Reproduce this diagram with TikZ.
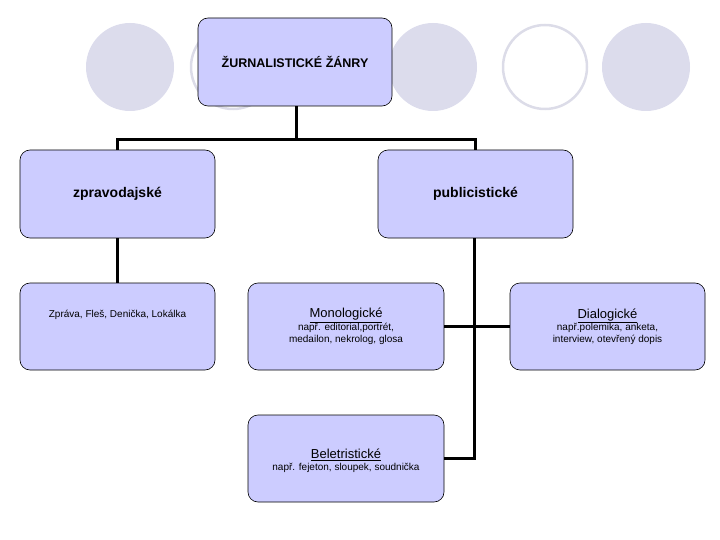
\documentclass[tikz,border=0pt]{standalone}
\usepackage{fontspec}
\setmainfont{Liberation Sans}
\begin{document}
\begin{tikzpicture}[x=1pt,y=-1pt,
  box/.style={draw=black,fill={rgb,255:red,204;green,204;blue,255},rounded corners=10pt,line width=0.6pt,align=center},
  disc/.style={fill={rgb,255:red,220;green,220;blue,236}},
  ring/.style={draw={rgb,255:red,220;green,220;blue,232},line width=2.5pt},
  conn/.style={line width=3pt},
  small/.style={font=\fontsize{10}{12}\selectfont}]
\useasboundingbox (0,0) rectangle (720,540);
\fill[disc] (130,67) circle (44);
\draw[ring] (233,67) circle (42);
\fill[disc] (433,67) circle (44);
\draw[ring] (545,67) circle (42);
\fill[disc] (646,67) circle (44);
\node[box,minimum width=194pt,minimum height=88pt,font=\bfseries\fontsize{12.5}{14}\selectfont] (top) at (295,62) {ŽURNALISTICKÉ ŽÁNRY};
\node[box,minimum width=195pt,minimum height=88pt,font=\bfseries\fontsize{14}{16}\selectfont] (zp) at (117.5,194) {zpravodajské};
\node[box,minimum width=195pt,minimum height=88pt,font=\bfseries\fontsize{14}{16}\selectfont] (pu) at (475.5,194) {publicistické};
\node[box,minimum width=195pt,minimum height=87pt,small] (zr) at (117.5,326.5) {Zpráva, Fleš, Denička, Lokálka\\[14pt]};
\node[box,minimum width=196pt,minimum height=87pt,small] (mo) at (346,326.5) {{\fontsize{13}{15}\selectfont\underline{Monologické}}\\ např. editorial,portrét,\\ medailon, nekrolog, glosa};
\node[box,minimum width=195pt,minimum height=87pt,small] (di) at (607.5,326.5) {{\fontsize{13}{15}\selectfont\underline{Dialogické}}\\ např.polemika, anketa,\\ interview, otevřený dopis};
\node[box,minimum width=196pt,minimum height=87pt,small] (be) at (346,458.5) {\\[2pt] {\fontsize{13}{15}\selectfont\underline{Beletristické}}\\ např. fejeton, sloupek, soudnička};
\coordinate (j) at (296,140);
\draw[conn] (top.south -| j) -- (j);
\draw[conn] (zp.north) |- (j) -| (pu.north);
\draw[conn] (zp.south) -- (zr.north);
\coordinate (pb) at (474,458);
\draw[conn] (pu.south -| pb) -- (pb) -- (be.east |- pb);
\draw[conn] (mo.east) -- (di.west);
\end{tikzpicture}
\end{document}
